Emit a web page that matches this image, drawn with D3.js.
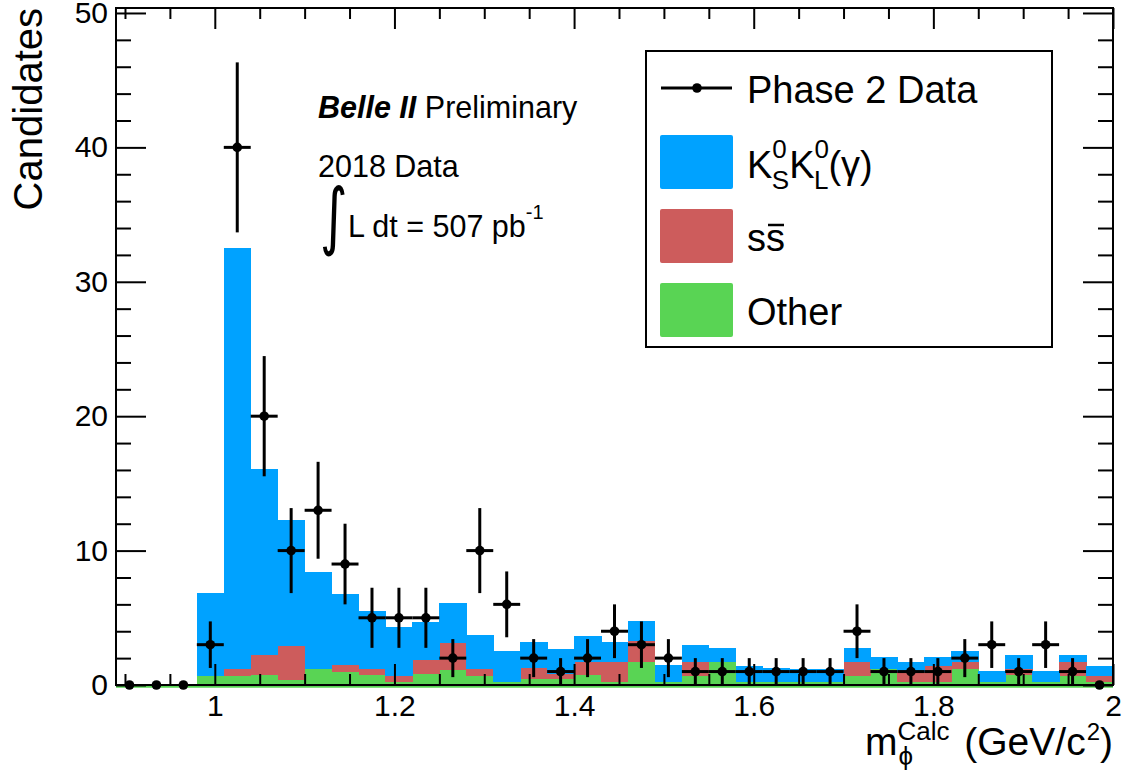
<!DOCTYPE html>
<html>
<head>
<meta charset="utf-8">
<script src="https://cdn.jsdelivr.net/npm/d3@7"></script>
<style>
  body { margin: 0; background: #fff; }
  text { font-family: "Liberation Sans", Arial, Helvetica, sans-serif; }
</style>
</head>
<body>
<div id="my_dataviz"></div>
<script>
// bins of 0.03 GeV/c^2 from 0.89 to 2.0
var binLow = [0.89, 0.92, 0.95, 0.98, 1.01, 1.04, 1.07, 1.10, 1.13, 1.16, 1.19, 1.22, 1.25,
  1.28, 1.31, 1.34, 1.37, 1.40, 1.43, 1.46, 1.49, 1.52, 1.55, 1.58, 1.61, 1.64, 1.67,
  1.70, 1.73, 1.76, 1.79, 1.82, 1.85, 1.88, 1.91, 1.94, 1.97];
var binWidth = 0.03;

// phase 2 data counts
var dataCounts = [0, 0, 0, 3, 40, 20, 10, 13, 9, 5, 5, 5, 2, 10, 6, 2, 1, 2, 4, 3, 2, 1, 1,
  1, 1, 1, 1, 4, 1, 1, 1, 2, 3, 1, 3, 1, 0];

// MC components (stacked: other at bottom, then s sbar, then KsKl)
var otherMC = [0, 0, 0, 0.65, 0.65, 0.75, 0.4, 1.2, 0.97, 0.74, 0.25, 0.82, 1.15, 0.69, 0.2,
  0.45, 0.45, 0.74, 0.25, 1.69, 0.2, 0.69, 1.69, 0.25, 0.2, 0.2, 0.2, 0.69, 1.19, 0.2, 0.25,
  1.19, 0.2, 0.74, 0.2, 0.69, 0.2];
var ssbarMC = [0, 0, 0, 0, 0.55, 1.5, 2.47, 0, 0.52, 0.45, 0.44, 1.04, 2.0, 0.5, 0, 0.79,
  0.37, 0.95, 1.44, 1.61, 0, 1.0, 0, 0, 0, 0, 0, 1.0, 0, 0.79, 1.19, 0.5, 0, 0.45, 0, 1.0, 0.44];
var kskMC = [0, 0, 0, 6.19, 31.35, 13.8, 9.4, 7.18, 5.31, 4.34, 3.6, 2.85, 2.92, 2.53, 2.35,
  1.98, 1.86, 1.98, 1.48, 1.43, 1.29, 1.28, 1.09, 1.14, 1.04, 0.99, 0.99, 1.04, 0.92, 0.7,
  0.67, 0.81, 0.87, 1.04, 0.82, 0.57, 0.8];

var xMajor = [1.0, 1.2, 1.4, 1.6, 1.8, 2.0];
var xMinor = [0.9, 0.95, 1.05, 1.1, 1.15, 1.25, 1.3, 1.35, 1.45, 1.5, 1.55, 1.65, 1.7, 1.75,
  1.85, 1.9, 1.95];
var yMajor = [0, 10, 20, 30, 40, 50];
var yMinor = [2, 4, 6, 8, 12, 14, 16, 18, 22, 24, 26, 28, 32, 34, 36, 38, 42, 44, 46, 48];

var colKs = "#00a2ff", colSs = "#cd5c5c", colOther = "#59d454";

var margin = { top: 8, right: 11, bottom: 89, left: 116 },
  width = 1124 - margin.left - margin.right,
  height = 774 - margin.top - margin.bottom;

var svgRoot = d3.select("#my_dataviz")
  .append("svg")
  .attr("width", 1124)
  .attr("height", 774);

var svg = svgRoot.append("g")
  .attr("transform", "translate(" + margin.left + "," + margin.top + ")");

var x = d3.scaleLinear().domain([0.89, 2.0]).range([0, width]);
var y = d3.scaleLinear().domain([0, 50.37]).range([height, 0]);

// stacked MC
var table = binLow.map(function (lo, i) {
  return { lo: lo, other: otherMC[i], ss: ssbarMC[i], ks: kskMC[i] };
});
var stack = d3.stack().keys(["other", "ss", "ks"])(table);
var colors = { other: colOther, ss: colSs, ks: colKs };

stack.forEach(function (layer) {
  svg.append("g")
    .attr("fill", colors[layer.key])
    .attr("shape-rendering", "crispEdges")
    .selectAll("rect")
    .data(layer)
    .enter()
    .append("rect")
    .attr("x", function (d) { return x(d.data.lo); })
    .attr("width", function (d) { return x(d.data.lo + binWidth) - x(d.data.lo) + 0.5; })
    .attr("y", function (d) { return y(d[1]); })
    .attr("height", function (d) { return Math.max(0, y(d[0]) - y(d[1])); });
});

// green histogram outline along zero
svg.append("line")
  .attr("x1", x(0.89)).attr("x2", x(2.0))
  .attr("y1", y(0) + 1.5).attr("y2", y(0) + 1.5)
  .style("stroke", colOther)
  .style("stroke-width", 2.5);

// axes (ticks inside, on all four sides)
function styleAxis(g) {
  g.select(".domain").remove();
  g.selectAll("line").style("stroke", "#000").style("stroke-width", 2);
  g.selectAll("text").style("font-size", "30px").style("fill", "#000")
    .style("font-family", "Liberation Sans, Arial, sans-serif");
}

svg.append("g")
  .attr("transform", "translate(0," + height + ")")
  .call(d3.axisBottom(x).tickValues(xMajor).tickSize(-21).tickPadding(10)
    .tickFormat(function (d) { return d3.format("")(+d.toFixed(1)); }))
  .call(styleAxis);
svg.append("g")
  .attr("transform", "translate(0," + height + ")")
  .call(d3.axisBottom(x).tickValues(xMinor).tickSize(-11).tickFormat(""))
  .call(styleAxis);
svg.append("g")
  .call(d3.axisTop(x).tickValues(xMajor).tickSize(-21).tickFormat(""))
  .call(styleAxis);
svg.append("g")
  .call(d3.axisTop(x).tickValues(xMinor).tickSize(-11).tickFormat(""))
  .call(styleAxis);

svg.append("g")
  .call(d3.axisLeft(y).tickValues(yMajor).tickSize(-30).tickPadding(8))
  .call(styleAxis);
svg.append("g")
  .call(d3.axisLeft(y).tickValues(yMinor).tickSize(-15).tickFormat(""))
  .call(styleAxis);
svg.append("g")
  .attr("transform", "translate(" + width + ",0)")
  .call(d3.axisRight(y).tickValues(yMajor).tickSize(-30).tickFormat(""))
  .call(styleAxis);
svg.append("g")
  .attr("transform", "translate(" + width + ",0)")
  .call(d3.axisRight(y).tickValues(yMinor).tickSize(-15).tickFormat(""))
  .call(styleAxis);

// frame
svg.append("rect")
  .attr("width", width).attr("height", height)
  .attr("fill", "none")
  .style("stroke", "#000")
  .style("stroke-width", 2);

// data points with errors
var pts = binLow.map(function (lo, i) {
  return { c: lo + binWidth / 2, lo: lo, n: dataCounts[i] };
});
var withErr = pts.filter(function (d) { return d.n > 0; });

svg.append("g").selectAll("line.v")
  .data(withErr).enter().append("line")
  .attr("x1", function (d) { return x(d.c); })
  .attr("x2", function (d) { return x(d.c); })
  .attr("y1", function (d) { return y(d.n - Math.sqrt(d.n)); })
  .attr("y2", function (d) { return y(d.n + Math.sqrt(d.n)); })
  .style("stroke", "#000").style("stroke-width", 3);

svg.append("g").selectAll("line.h")
  .data(withErr).enter().append("line")
  .attr("x1", function (d) { return x(d.lo); })
  .attr("x2", function (d) { return x(d.lo + binWidth); })
  .attr("y1", function (d) { return y(d.n); })
  .attr("y2", function (d) { return y(d.n); })
  .style("stroke", "#000").style("stroke-width", 3);

svg.append("g").selectAll("circle")
  .data(pts).enter().append("circle")
  .attr("cx", function (d) { return x(d.c); })
  .attr("cy", function (d) { return y(d.n); })
  .attr("r", 4.8)
  .style("fill", "#000");

// y title
svgRoot.append("text")
  .attr("transform", "translate(42,8) rotate(-90)")
  .style("text-anchor", "end")
  .style("font-size", "40px")
  .text("Candidates");

// x title, right aligned to the axis end
var xt = svgRoot.append("g");
var mT = xt.append("text").attr("x", 0).attr("y", 0).style("font-size", "39px").text("m");
var mW = mT.node().getComputedTextLength();
var supT = xt.append("text").attr("x", mW).attr("y", -15).style("font-size", "26px").text("Calc");
xt.append("text").attr("x", mW + 1).attr("y", 10).style("font-size", "26px").text("\u03d5");
var pos = mW + supT.node().getComputedTextLength() + 4;
var gT = xt.append("text").attr("x", pos).attr("y", 0).style("font-size", "39px").text("\u00a0(GeV/c");
pos += gT.node().getComputedTextLength();
var twoT = xt.append("text").attr("x", pos + 1).attr("y", -15).style("font-size", "24px").text("2");
pos += twoT.node().getComputedTextLength() + 1;
var clT = xt.append("text").attr("x", pos).attr("y", 0).style("font-size", "39px").text(")");
pos += clT.node().getComputedTextLength();
xt.attr("transform", "translate(" + (margin.left + width - pos) + ",755)");

// Belle II label
var lab = svgRoot.append("text").attr("x", 318).attr("y", 118).style("font-size", "30.5px");
lab.append("tspan").style("font-weight", "bold").style("font-style", "italic").text("Belle II");
lab.append("tspan").text("\u00a0Preliminary");

svgRoot.append("text").attr("x", 318).attr("y", 177).style("font-size", "30.5px").text("2018 Data");
svgRoot.append("text")
  .attr("transform", "translate(320,241) scale(0.72,1)")
  .style("font-family", "DejaVu Sans, sans-serif").style("font-size", "74px")
  .text("\u222b");
var lum = svgRoot.append("text").attr("x", 348).attr("y", 237).style("font-size", "30.5px");
lum.append("tspan").text("L dt = 507 pb");
lum.append("tspan").attr("dy", -18).style("font-size", "20px").text("-1");

// legend
var lg = svgRoot.append("g");
lg.append("rect")
  .attr("x", 646).attr("y", 51).attr("width", 406).attr("height", 296)
  .attr("fill", "#fff").style("stroke", "#000").style("stroke-width", 2);
lg.append("line")
  .attr("x1", 661).attr("x2", 732).attr("y1", 88).attr("y2", 88)
  .style("stroke", "#000").style("stroke-width", 3);
lg.append("circle").attr("cx", 697).attr("cy", 88).attr("r", 4.8).style("fill", "#000");
lg.append("text").attr("x", 747).attr("y", 103).style("font-size", "38px").text("Phase 2 Data");

var boxes = [
  { y: 135, c: colKs },
  { y: 209, c: colSs },
  { y: 283, c: colOther }
];
lg.selectAll("rect.box").data(boxes).enter().append("rect")
  .attr("x", 660).attr("y", function (d) { return d.y; })
  .attr("width", 73).attr("height", 54)
  .attr("rx", 2)
  .attr("fill", function (d) { return d.c; });

var kt = lg.append("text").attr("x", 747).attr("y", 178).style("font-size", "38px");
kt.append("tspan").text("K");
kt.append("tspan").attr("dy", -20).style("font-size", "26px").text("0");
kt.append("tspan").attr("dx", -15).attr("dy", 31).style("font-size", "26px").text("S");
kt.append("tspan").attr("dy", -11).text("K");
kt.append("tspan").attr("dy", -20).style("font-size", "26px").text("0");
kt.append("tspan").attr("dx", -15).attr("dy", 31).style("font-size", "26px").text("L");
kt.append("tspan").attr("dy", -11).text("(\u03b3)");

lg.append("text").attr("x", 747).attr("y", 251).style("font-size", "38px").text("s");
lg.append("text").attr("x", 766).attr("y", 251).style("font-size", "38px").text("s");
lg.append("line")
  .attr("x1", 768).attr("x2", 784).attr("y1", 225).attr("y2", 225)
  .style("stroke", "#000").style("stroke-width", 2.5);

lg.append("text").attr("x", 747).attr("y", 325).style("font-size", "38px").text("Other");
</script>
</body>
</html>
